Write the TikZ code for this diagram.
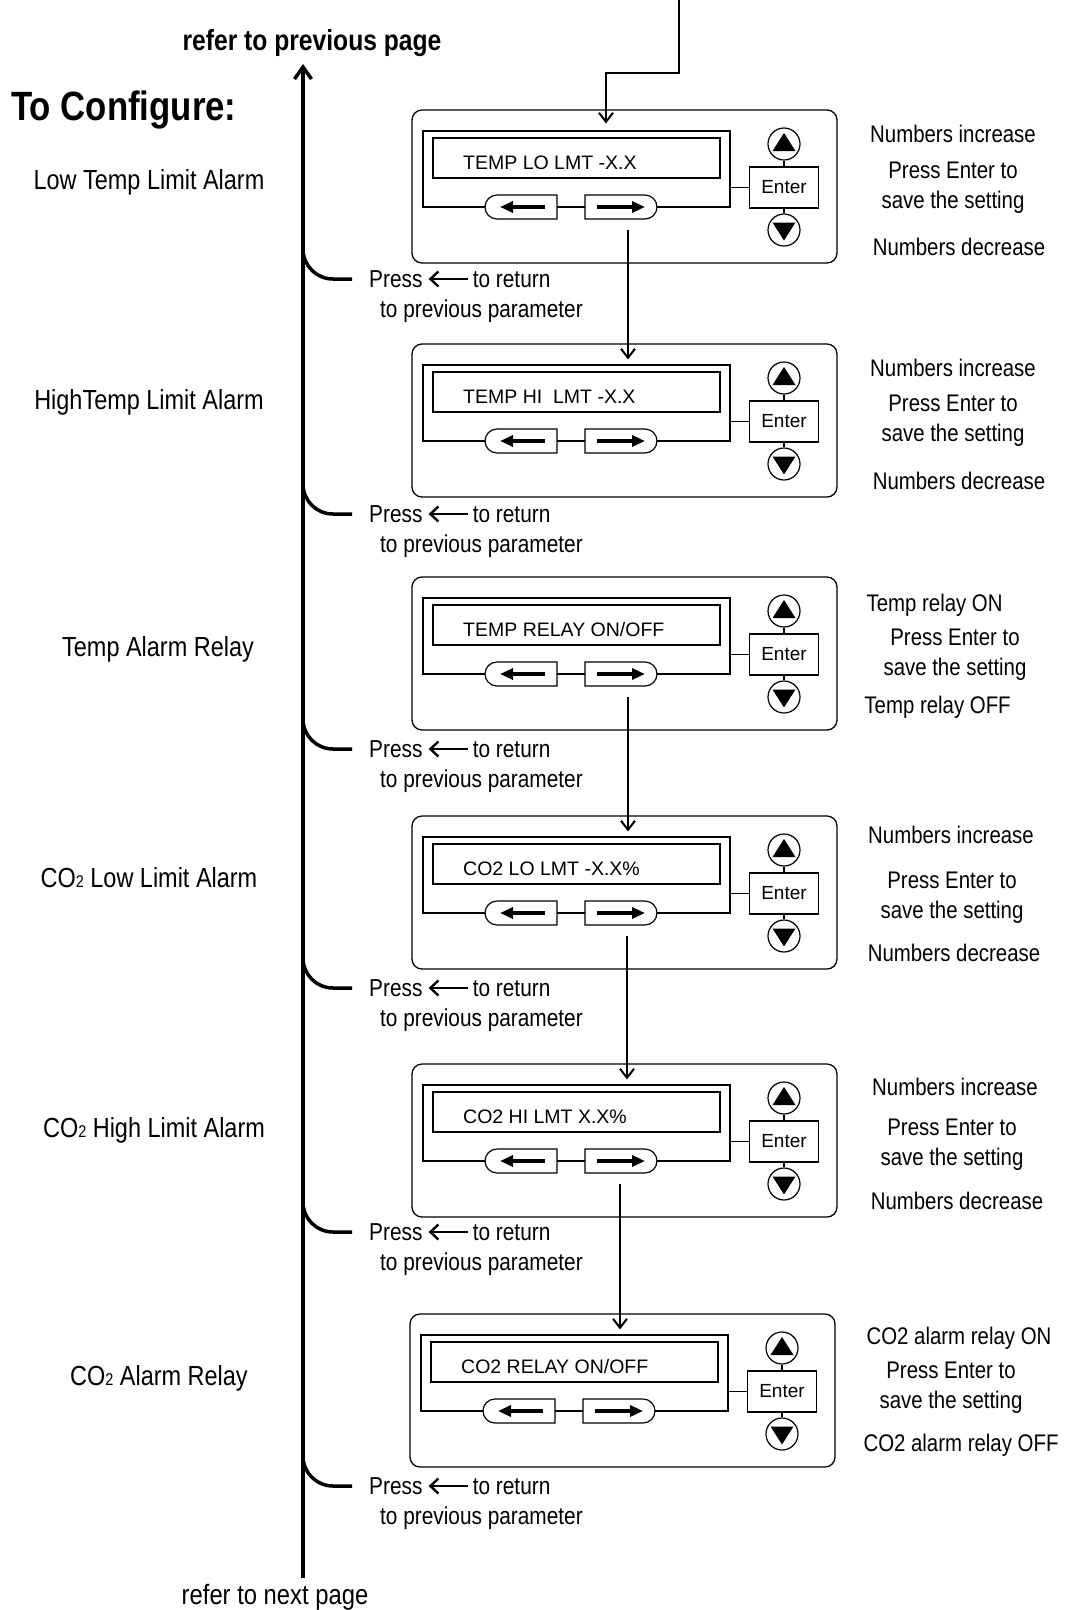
\documentclass[tikz,border=0pt]{standalone}
\usepackage{fontspec}
\setmainfont{Liberation Sans}
\newfontfamily\condfont[FakeStretch=0.85]{Liberation Sans}
\usetikzlibrary{arrows.meta, positioning, calc, shapes.misc}

\begin{document}
\begin{tikzpicture}[
    x=1pt, y=1pt,
    pline/.style={line width=1.3pt},
    unitbox/.style={rectangle, draw, line width=1.3pt, rounded corners=10pt, minimum width=425pt, minimum height=153pt, inner sep=0pt},
    lcdframe/.style={rectangle, draw, line width=1.2pt, minimum width=307pt, minimum height=76pt, inner sep=0pt},
    lcdscreen/.style={rectangle, draw, line width=1.2pt, minimum width=287pt, minimum height=40pt, inner sep=0pt},
    lcdtext/.style={inner sep=0pt, anchor=west, font=\fontsize{19.5}{22}\selectfont},
    lbtn/.style={rounded rectangle, rounded rectangle right arc=none, draw, fill=white, line width=1.2pt, minimum width=72pt, minimum height=24pt, inner sep=0pt},
    rbtn/.style={rounded rectangle, rounded rectangle left arc=none, draw, fill=white, line width=1.2pt, minimum width=72pt, minimum height=24pt, inner sep=0pt},
    enterbox/.style={rectangle, draw, fill=white, line width=1.2pt, minimum width=69pt, minimum height=41pt, inner sep=0pt, font=\fontsize{19}{22}\selectfont},
    keyring/.style={circle, draw, line width=1.2pt, minimum size=32pt, inner sep=0pt},
    padarr/.style={-{Triangle[length=13pt, width=11pt]}, line width=3.5pt},
    flow/.style={-{Straight Barb[length=9pt, width=14pt]}, line width=2pt},
    spine/.style={line width=3.5pt},
    hook/.style={line width=3.5pt, rounded corners=30pt},
    retarr/.style={-{Straight Barb[length=8pt, width=15pt]}, line width=2.4pt},
    stage/.style={font=\condfont\fontsize{27.6}{33}\selectfont, inner sep=0pt, text height=19.5pt, text depth=0pt},
    note/.style={font=\condfont\fontsize{24}{30}\selectfont, inner sep=0pt, text height=17pt, text depth=0pt},
    notes/.style={font=\condfont\fontsize{24}{30}\selectfont, inner sep=0pt, align=center},
    press/.style={font=\condfont\fontsize{24.5}{30}\selectfont, inner sep=0pt, text height=17pt, text depth=0pt, anchor=west},
    panel/.pic={
      \node[unitbox] (-box) at (212.5,-76.5) {};
      \node[lcdframe] (-frame) at (164.5,-59) {};
      \node[lcdscreen] (-screen) at (164.5,-48) {};
      \node[lcdtext] (-txt) at (51,-53) {#1};
      \node[lbtn] (-lbtn) at (109,-97) {};
      \node[rbtn] (-rbtn) at (209,-97) {};
      \draw[padarr] (133,-97) -- (88,-97);
      \draw[padarr] (185,-97) -- (233,-97);
      \node[enterbox] (-enter) at (372,-77.5) {Enter};
      \node[keyring] (-up) at (372,-34) {};
      \node[keyring] (-down) at (372,-120) {};
      \fill (372,-23) -- (360.5,-41) -- (383.5,-41) -- cycle;
      \fill (372,-130.5) -- (360.5,-112.5) -- (383.5,-112.5) -- cycle;
      \draw[pline] (318,-77.5) -- (-enter);
      \draw[pline] (-up) -- (-enter);
      \draw[pline] (-enter) -- (-down);
    }
  ]
    \path[use as bounding box, fill=white] (0,0) rectangle (1068,-1610);

    % headings
    \node[font=\condfont\bfseries\fontsize{40.9}{44}\selectfont, inner sep=0pt, text height=29pt, text depth=0pt, anchor=west] (title) at (11,-106) {To Configure:};
    \node[font=\condfont\bfseries\fontsize{29}{32}\selectfont, inner sep=0pt, text height=21pt, text depth=0pt] (prevpg) at (312,-40) {refer to previous page};
    \node[font=\condfont\fontsize{28}{32}\selectfont, inner sep=0pt, text height=20pt, text depth=0pt] (nextpg) at (275,-1594) {refer to next page};

    % keypad panels
    \pic (p1) at (412,-110) {panel={TEMP LO LMT -X.X}};
    \pic (p2) at (412,-344) {panel={TEMP HI\ \ LMT -X.X}};
    \pic (p3) at (412,-577) {panel={TEMP RELAY ON/OFF}};
    \pic (p4) at (412,-816) {panel={CO2 LO LMT -X.X\%}};
    \pic (p5) at (412,-1064) {panel={CO2 HI LMT X.X\%}};
    \pic (p6) at (410,-1314) {panel={CO2 RELAY ON/OFF}};

    % parameter names
    \node[stage] (s1) at (149,-180) {Low Temp Limit Alarm};
    \node[stage] (s2) at (149,-400) {HighTemp Limit Alarm};
    \node[stage] (s3) at (158,-647) {Temp Alarm Relay};
    \node[stage] (s4) at (149,-878) {CO{\fontsize{17}{17}\selectfont 2} Low Limit Alarm};
    \node[stage] (s5) at (154,-1128) {CO{\fontsize{17}{17}\selectfont 2} High Limit Alarm};
    \node[stage] (s6) at (159,-1376) {CO{\fontsize{17}{17}\selectfont 2} Alarm Relay};

    % key notes
    \node[note] (n1a) at (953,-133.5) {Numbers increase};
    \node[notes] (n1b) at (953,-187.4) {Press Enter to\\save the setting};
    \node[note] (n1c) at (959,-246.5) {Numbers decrease};
    \node[note] (n2a) at (953,-367.7) {Numbers increase};
    \node[notes] (n2b) at (953,-421) {Press Enter to\\save the setting};
    \node[note] (n2c) at (959,-480.6) {Numbers decrease};
    \node[note] (n3a) at (934.6,-602.8) {Temp relay ON};
    \node[notes] (n3b) at (955,-655) {Press Enter to\\save the setting};
    \node[note] (n3c) at (937.6,-704.5) {Temp relay OFF};
    \node[note] (n4a) at (951,-835) {Numbers increase};
    \node[notes] (n4b) at (952,-898) {Press Enter to\\save the setting};
    \node[note] (n4c) at (954,-953) {Numbers decrease};
    \node[note] (n5a) at (955,-1086.6) {Numbers increase};
    \node[notes] (n5b) at (952,-1145) {Press Enter to\\save the setting};
    \node[note] (n5c) at (957,-1200.6) {Numbers decrease};
    \node[note] (n6a) at (959,-1336) {CO2 alarm relay ON};
    \node[notes] (n6b) at (951,-1388) {Press Enter to\\save the setting};
    \node[note] (n6c) at (961,-1443) {CO2 alarm relay OFF};

    % return hints
    \node[press] (pr1) at (369,-279) {Press};
    \node[press, right=50pt of pr1] (rt1) {to return};
    \node[press] (pv1) at (380,-309) {to previous parameter};
    \node[press] (pr2) at (369,-514) {Press};
    \node[press, right=50pt of pr2] (rt2) {to return};
    \node[press] (pv2) at (380,-544) {to previous parameter};
    \node[press] (pr3) at (369,-749) {Press};
    \node[press, right=50pt of pr3] (rt3) {to return};
    \node[press] (pv3) at (380,-779) {to previous parameter};
    \node[press] (pr4) at (369,-988) {Press};
    \node[press, right=50pt of pr4] (rt4) {to return};
    \node[press] (pv4) at (380,-1018) {to previous parameter};
    \node[press] (pr5) at (369,-1232) {Press};
    \node[press, right=50pt of pr5] (rt5) {to return};
    \node[press] (pv5) at (380,-1262) {to previous parameter};
    \node[press] (pr6) at (369,-1486) {Press};
    \node[press, right=50pt of pr6] (rt6) {to return};
    \node[press] (pv6) at (380,-1516) {to previous parameter};

    \coordinate (fromprev) at (679,0);
    \coordinate (spinetop) at (303,-64);
    \coordinate (spinebot) at (303,-1578);

    % flow
    \draw[flow] (fromprev) -- ++(0,-73) -| ($(p1-frame.north)+(29.5,7)$);
    \draw[flow] ($(p1-rbtn.south)+(7,-10)$) -- ($(p1-rbtn.south |- p2-frame.north)+(7,5)$);
    \draw[flow] ($(p3-rbtn.south)+(7,-10)$) -- ($(p3-rbtn.south |- p4-frame.north)+(7,5)$);
    \draw[flow] ($(p4-rbtn.south)+(6,-10)$) -- ($(p4-rbtn.south |- p5-frame.north)+(6,5)$);
    \draw[flow] ($(p5-rbtn.south)+(-1,-10)$) -- ($(p5-rbtn.south |- p6-frame.north)+(-1,5)$);

    \draw[spine, -{Straight Barb[length=12pt, width=17pt]}] (spinebot) -- (spinetop);
    \draw[hook] ($(pr1.west -| spinebot)+(0,34)$) -- (pr1.west -| spinebot) -- ($(pr1.west)+(-17,0)$);
    \draw[hook] ($(pr2.west -| spinebot)+(0,34)$) -- (pr2.west -| spinebot) -- ($(pr2.west)+(-17,0)$);
    \draw[hook] ($(pr3.west -| spinebot)+(0,34)$) -- (pr3.west -| spinebot) -- ($(pr3.west)+(-17,0)$);
    \draw[hook] ($(pr4.west -| spinebot)+(0,34)$) -- (pr4.west -| spinebot) -- ($(pr4.west)+(-17,0)$);
    \draw[hook] ($(pr5.west -| spinebot)+(0,34)$) -- (pr5.west -| spinebot) -- ($(pr5.west)+(-17,0)$);
    \draw[hook] ($(pr6.west -| spinebot)+(0,34)$) -- (pr6.west -| spinebot) -- ($(pr6.west)+(-17,0)$);

    \draw[retarr, shorten <=5pt, shorten >=6pt] (rt1) -- (pr1);
    \draw[retarr, shorten <=5pt, shorten >=6pt] (rt2) -- (pr2);
    \draw[retarr, shorten <=5pt, shorten >=6pt] (rt3) -- (pr3);
    \draw[retarr, shorten <=5pt, shorten >=6pt] (rt4) -- (pr4);
    \draw[retarr, shorten <=5pt, shorten >=6pt] (rt5) -- (pr5);
    \draw[retarr, shorten <=5pt, shorten >=6pt] (rt6) -- (pr6);
  \end{tikzpicture}
\end{document}
